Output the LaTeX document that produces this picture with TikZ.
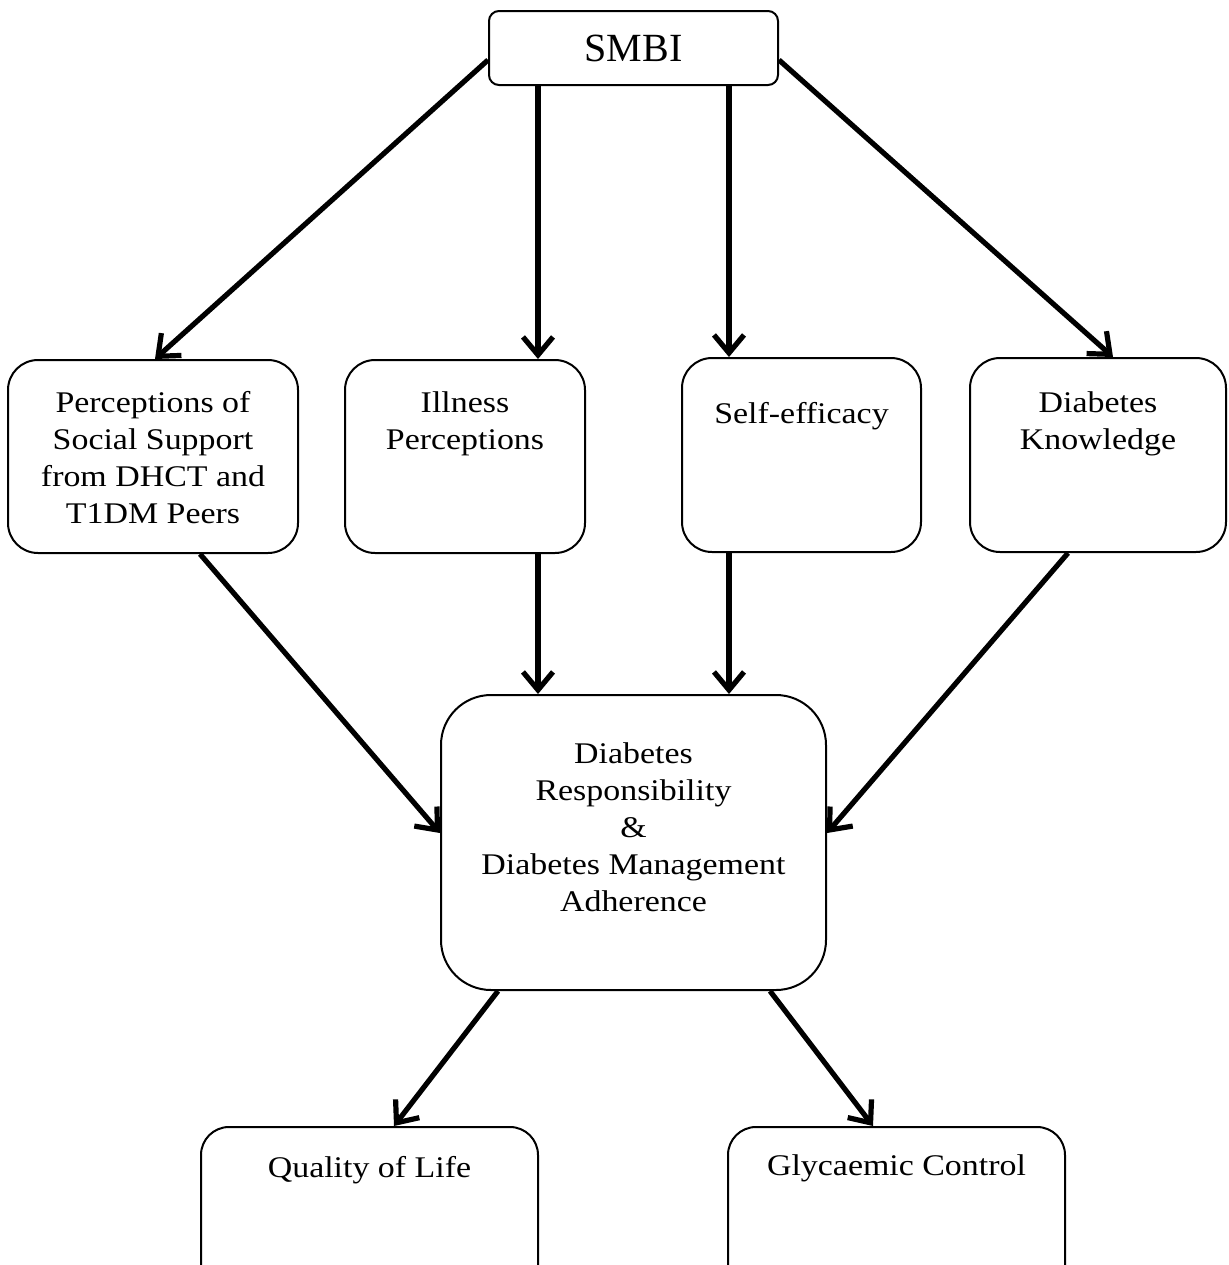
\documentclass[tikz,border=0pt]{standalone}
\usepackage{fontspec}
\setmainfont{Liberation Serif}[FakeStretch=1.13]
\newfontfamily\titlefont{Liberation Serif}
\usetikzlibrary{arrows.meta}

\begin{document}
\begin{tikzpicture}[x=0.5pt,y=-0.5pt,
  box/.style={draw, line width=1pt, inner sep=0pt},
  boxtext/.style={anchor=north, inner sep=0pt, align=center,
    font=\fontsize{15}{18.5}\selectfont},
  conn/.style={line width=2.6pt,
    -{Straight Barb[length=9pt,width=15pt,line width=2.6pt,line cap=butt,line join=miter]}}]

% canvas
\useasboundingbox (0,0) rectangle (1228,1265);
\fill[white] (0,0) rectangle (1228,1265);
\clip (0,0) rectangle (1228,1265);

% intervention
\node[box, rounded corners=5pt, minimum width=144.5pt, minimum height=37pt,
  font=\titlefont\fontsize{20}{24}\selectfont] (smbi) at (633.5,48) {SMBI};

% mediators
\node[box, rounded corners=15pt, minimum width=145pt, minimum height=96.5pt] (pss) at (153,456.5) {};
\node[boxtext] (psstext) at (153,391) {Perceptions of\\Social Support\\from DHCT and\\T1DM Peers};

\node[box, rounded corners=15pt, minimum width=120pt, minimum height=96.5pt] (ill) at (465,456.5) {};
\node[boxtext] (illtext) at (465,391) {Illness\\Perceptions};

\node[box, rounded corners=15pt, minimum width=119.5pt, minimum height=97pt] (self) at (801.5,455) {};
\node[boxtext] (selftext) at (801.5,402) {Self-efficacy};

\node[box, rounded corners=15pt, minimum width=128pt, minimum height=97pt] (know) at (1098,455) {};
\node[boxtext] (knowtext) at (1098,391) {Diabetes\\Knowledge};

% behaviour
\node[box, rounded corners=25pt, minimum width=192.5pt, minimum height=147.5pt] (drs) at (633.5,842.5) {};
\node[boxtext] (drstext) at (633.5,742) {Diabetes\\Responsibility\\\&\\Diabetes Management\\Adherence};

% outcomes
\node[box, rounded corners=14pt, minimum width=168.5pt, minimum height=86.5pt] (qol) at (369.5,1213.5) {};
\node[boxtext] (qoltext) at (369.5,1156) {Quality of Life};

\node[box, rounded corners=14pt, minimum width=168.5pt, minimum height=86.5pt] (gly) at (896.5,1213.5) {};
\node[boxtext] (glytext) at (896.5,1154) {Glycaemic Control};

% SMBI -> mediators
\draw[conn] ([yshift=-6pt]smbi.west) -- ([xshift=1pt]pss.north);
\draw[conn] ([xshift=-47.75pt]smbi.south) -- ([xshift=-47.75pt]smbi.south |- ill.north);
\draw[conn] ([xshift=47.75pt]smbi.south) -- ([xshift=47.75pt]smbi.south |- self.north);
\draw[conn] ([yshift=-6pt]smbi.east) -- ([xshift=7.5pt]know.north);

% mediators -> behaviour
\draw[conn] ([xshift=23.5pt]pss.south) -- ([yshift=4.75pt]drs.west);
\draw[conn] ([xshift=-47.75pt]drs.north |- ill.south) -- ([xshift=-47.75pt]drs.north);
\draw[conn] ([xshift=47.75pt]drs.north |- self.south) -- ([xshift=47.75pt]drs.north);
\draw[conn] ([xshift=-15pt]know.south) -- ([yshift=4.75pt]drs.east);

% behaviour -> outcomes
\draw[conn] ([xshift=-67.75pt]drs.south) -- ([xshift=12.25pt]qol.north);
\draw[conn] ([xshift=68.25pt]drs.south) -- ([xshift=-11.75pt]gly.north);

\end{tikzpicture}
\end{document}
